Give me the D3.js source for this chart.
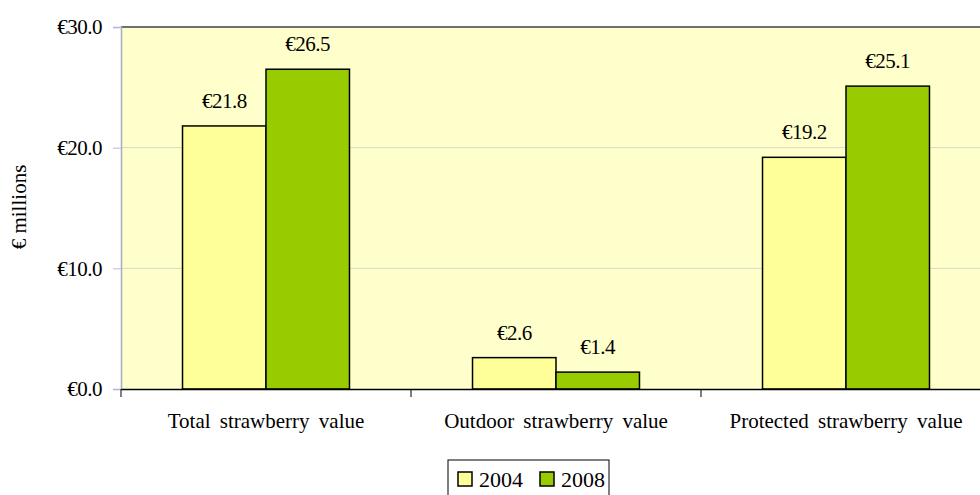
<!DOCTYPE html>
<html>
<head>
<meta charset="utf-8">
<script src="https://cdn.jsdelivr.net/npm/d3@7"></script>
<style>
  body { margin: 0; background: #fff; }
  svg { display: block; font-family: "Liberation Serif", "DejaVu Serif", serif; }
</style>
</head>
<body>
<svg id="chart" width="980" height="495"></svg>
<script>
const categories = ["Total strawberry value", "Outdoor strawberry value", "Protected strawberry value"];
const years = ["2004", "2008"];
const values2004 = [21.8, 2.6, 19.2];
const values2008 = [26.5, 1.4, 25.1];
const yTicks = [0, 10, 20, 30];

const euro = v => "\u20ac" + v.toFixed(1);

const svg = d3.select("#chart");
const margin = { top: 27, left: 121, bottom: 106 };
const plotRight = 991;
const height = 495 - margin.top - margin.bottom;

const x = d3.scaleBand()
    .domain(categories)
    .range([margin.left, plotRight])
    .paddingInner(0).paddingOuter(0);

const inner = d3.scaleBand()
    .domain(years)
    .range([0, x.bandwidth()])
    .paddingOuter(0.737).paddingInner(0);

const y = d3.scaleLinear().domain([0, 30]).range([margin.top + height, margin.top]);

const color = d3.scaleOrdinal().domain(years).range(["#ffff99", "#99cc00"]);

// plot background
svg.append("rect")
    .attr("x", margin.left).attr("y", margin.top)
    .attr("width", plotRight - margin.left).attr("height", height)
    .attr("fill", "#ffffcc");

// gridlines
svg.append("g").selectAll("line")
    .data(yTicks.filter(d => d > 0 && d < 30))
    .enter().append("line")
    .attr("x1", margin.left).attr("x2", plotRight)
    .attr("y1", d => y(d)).attr("y2", d => y(d))
    .attr("stroke", "#d9d9c4").attr("stroke-width", 1);

// top border
svg.append("line")
    .attr("x1", margin.left).attr("x2", plotRight)
    .attr("y1", y(30)).attr("y2", y(30))
    .attr("stroke", "#707070").attr("stroke-width", 2);

// y axis
const yAxis = svg.append("g")
    .attr("transform", `translate(${margin.left},0)`)
    .call(d3.axisLeft(y).tickValues(yTicks).tickSize(8).tickPadding(11).tickFormat(euro));
yAxis.select(".domain").attr("stroke", "#a9a9c9").attr("stroke-width", 1.5);
yAxis.selectAll(".tick line").attr("stroke", "#b8b8dd");
yAxis.selectAll(".tick text")
    .attr("fill", "#000")
    .style("font-size", "21px")
    .style("letter-spacing", "-0.5px")
    .style("font-family", "'Liberation Serif', serif");

// bars
const rows = categories.map((c, i) => ({ cat: c, vals: [values2004[i], values2008[i]] }));
const groups = svg.append("g").selectAll("g")
    .data(rows)
    .enter().append("g")
    .attr("transform", d => `translate(${x(d.cat)},0)`);

groups.selectAll("rect")
    .data(d => years.map((yr, j) => ({ year: yr, value: d.vals[j] })))
    .enter().append("rect")
    .attr("x", d => inner(d.year))
    .attr("y", d => y(d.value))
    .attr("width", inner.bandwidth())
    .attr("height", d => y(0) - y(d.value))
    .attr("fill", d => color(d.year))
    .attr("stroke", "#000")
    .attr("stroke-width", 1.5);

groups.selectAll("text")
    .data(d => years.map((yr, j) => ({ year: yr, value: d.vals[j] })))
    .enter().append("text")
    .attr("x", d => inner(d.year) + inner.bandwidth() / 2)
    .attr("y", d => y(d.value) - 18)
    .attr("text-anchor", "middle")
    .style("font-size", "21px")
    .style("letter-spacing", "-0.5px")
    .text(d => euro(d.value));

// x axis
const xAxis = svg.append("g")
    .attr("transform", `translate(0,${y(0)})`)
    .call(d3.axisBottom(x).tickSize(0).tickPadding(24));
xAxis.select(".domain").attr("stroke", "#000").attr("stroke-width", 1.5);
xAxis.selectAll(".tick text")
    .attr("fill", "#000")
    .style("font-size", "21px")
    .style("word-spacing", "4px")
    .style("font-family", "'Liberation Serif', serif");

// category separator ticks
svg.append("g").selectAll("line")
    .data(categories)
    .enter().append("line")
    .attr("x1", d => x(d)).attr("x2", d => x(d))
    .attr("y1", y(0)).attr("y2", y(0) + 8)
    .attr("stroke", "#000").attr("stroke-width", 1);

// y axis title
svg.append("text")
    .attr("transform", `translate(26,207) rotate(-90)`)
    .attr("text-anchor", "middle")
    .style("font-size", "21px")
    .text("\u20ac millions");

// legend
const legend = svg.append("g").attr("transform", "translate(448,460)");
legend.append("rect")
    .attr("x", 0).attr("y", 0).attr("width", 161).attr("height", 40)
    .attr("fill", "#fff").attr("stroke", "#000").attr("stroke-width", 1);
const items = legend.selectAll("g.item")
    .data(years)
    .enter().append("g")
    .attr("class", "item")
    .attr("transform", (d, i) => `translate(${10 + i * 82},12)`);
items.append("rect")
    .attr("width", 14).attr("height", 14)
    .attr("fill", d => color(d)).attr("stroke", "#000").attr("stroke-width", 1.5);
items.append("text")
    .attr("x", 21).attr("y", 15)
    .style("font-size", "22px")
    .text(d => d);
</script>
</body>
</html>
